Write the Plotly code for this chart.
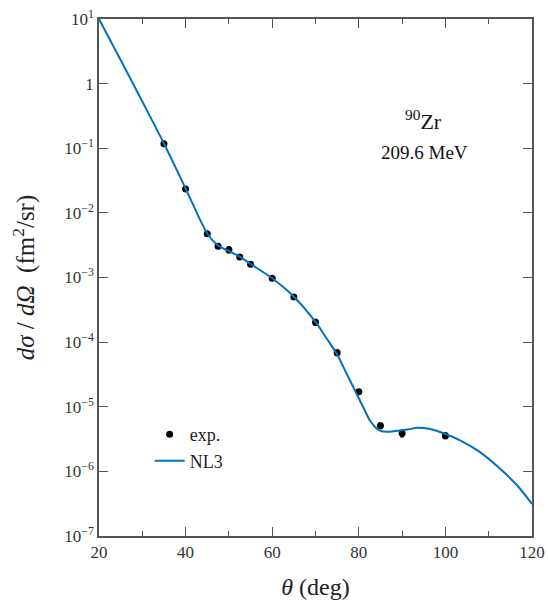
import plotly.graph_objects as go

# Measured elastic cross section, 90Zr at 209.6 MeV
theta_exp = [35, 40, 45, 47.5, 50, 52.5, 55, 60, 65, 70, 75, 80, 85, 90, 100]
xs_exp = [0.1175, 0.0234, 4.76e-3, 3.04e-3, 2.69e-3, 2.08e-3, 1.60e-3, 9.72e-4,
          4.99e-4, 2.03e-4, 6.86e-5, 1.71e-5, 5.09e-6, 3.88e-6, 3.56e-6]
xs_err = [4e-3, 8e-4, 2.0e-4, 1.3e-4, 2.8e-4, 1.0e-4, 8e-5, 5e-5,
          3e-5, 2.2e-5, 7e-6, 1.4e-6, 5e-7, 4.5e-7, 3.5e-7]

# NL3 calculation
theta_nl3 = [20, 25, 30, 35, 40, 45, 47.5, 50, 52.5, 55, 60, 65, 70, 72.5, 75, 77,
             79, 81, 82.5, 83.7, 85, 86.5, 88.5, 91.5, 93.5, 96.5, 100, 103.5, 108,
             112.5, 116.5, 120]
xs_nl3 = [10.0, 2.321, 0.529, 0.1184, 0.02384, 4.80e-3, 3.13e-3, 2.57e-3, 2.11e-3,
          1.62e-3, 9.72e-4, 5.04e-4, 2.05e-4, 1.158e-4, 6.43e-5, 3.45e-5,
          1.849e-5, 9.91e-6, 6.24e-6, 4.91e-6, 4.24e-6, 4.10e-6, 4.21e-6, 4.48e-6,
          4.74e-6, 4.52e-6, 3.79e-6, 3.00e-6, 1.99e-6, 1.12e-6, 6.15e-7, 3.13e-7]

y_tickvals = [1e1, 1, 1e-1, 1e-2, 1e-3, 1e-4, 1e-5, 1e-6, 1e-7]
y_ticktext = ["10<sup>1</sup>", "1", "10<sup>−1</sup>", "10<sup>−2</sup>",
              "10<sup>−3</sup>", "10<sup>−4</sup>", "10<sup>−5</sup>",
              "10<sup>−6</sup>", "10<sup>−7</sup>"]

SERIF = "Liberation Serif"
AXIS_GREY = "#555555"
TEXT_GREY = "#333333"

fig = go.Figure()

fig.add_trace(go.Scatter(
    x=theta_exp, y=xs_exp, mode="markers", name="exp.",
    marker=dict(color="black", size=7),
    error_y=dict(type="data", array=xs_err, color="black", thickness=1.2, width=2),
))

fig.add_trace(go.Scatter(
    x=theta_nl3, y=xs_nl3, mode="lines", name="NL3",
    line=dict(color="#0072BD", width=2, shape="spline", smoothing=0.8),
))

fig.update_layout(
    width=548, height=608,
    margin=dict(l=99, r=16, t=19, b=72),
    paper_bgcolor="white", plot_bgcolor="white",
    font=dict(family=SERIF, color=TEXT_GREY, size=17),
    showlegend=True,
    legend=dict(x=0.117, y=0.232, xanchor="left", yanchor="top",
                bgcolor="rgba(0,0,0,0)", font=dict(family=SERIF, size=18, color="#222222"),
                itemwidth=30),
    annotations=[
        dict(x=0.75, y=0.805, xref="paper", yref="paper", showarrow=False,
             xanchor="center", yanchor="middle",
             text="<sup>90</sup>Zr", font=dict(family=SERIF, size=22, color="#111111")),
        dict(x=0.752, y=0.741, xref="paper", yref="paper", showarrow=False,
             xanchor="center", yanchor="middle",
             text="209.6 MeV", font=dict(family=SERIF, size=19, color="#111111")),
    ],
)

fig.update_xaxes(
    range=[20, 120], dtick=20, tick0=20, automargin=False,
    ticks="inside", ticklen=9, tickwidth=1.2, tickcolor=AXIS_GREY,
    minor=dict(dtick=10, ticks="inside", ticklen=5, tickwidth=1.2, tickcolor=AXIS_GREY),
    showline=True, linecolor=AXIS_GREY, linewidth=1.5, mirror="ticks",
    showgrid=False, zeroline=False,
    tickfont=dict(family=SERIF, size=17, color=TEXT_GREY),
    title=dict(text="<i>θ</i> (deg)", font=dict(family=SERIF, size=24, color="#222222"),
               standoff=17),
)

fig.update_yaxes(
    type="log", range=[-7, 1], automargin=False,
    tickvals=y_tickvals, ticktext=y_ticktext,
    ticks="inside", ticklen=9, tickwidth=1.2, tickcolor=AXIS_GREY,
    showline=True, linecolor=AXIS_GREY, linewidth=1.5, mirror="ticks",
    showgrid=False, zeroline=False,
    tickfont=dict(family=SERIF, size=17, color=TEXT_GREY),
    title=dict(text="<i>dσ</i> / <i>dΩ</i>  (fm<sup>2</sup>/sr)",
               font=dict(family=SERIF, size=25, color="#222222"), standoff=22),
)

fig.write_html("out.html")
